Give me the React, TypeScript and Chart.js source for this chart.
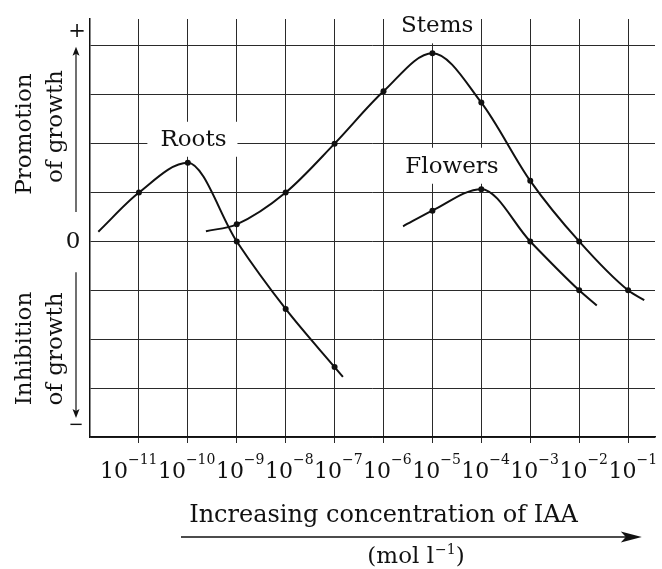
import React, { useEffect, useRef } from 'react';
import { Chart, registerables } from 'chart.js';

Chart.register(...registerables);

// ---- data (x = log10 of IAA concentration, y = growth response in grid units) ----
const tickExponents = [-11, -10, -9, -8, -7, -6, -5, -4, -3, -2, -1];
const gridLevels = [-4, -3, -2, -1, 0, 1, 2, 3, 4];

const rootsX = [-11.83, -11, -10, -9, -8, -7, -6.83];
const rootsY = [0.2, 1.0, 1.61, 0, -1.38, -2.57, -2.77];

const stemsX = [-9.63, -9, -8, -7, -6, -5, -4, -3, -2, -1, -0.67];
const stemsY = [0.21, 0.35, 1.0, 2.0, 3.07, 3.85, 2.84, 1.24, 0, -1.0, -1.2];

const flowersX = [-5.6, -5, -4, -3, -2, -1.64];
const flowersY = [0.31, 0.63, 1.07, 0, -1.0, -1.31];

const seriesNames = ['Roots', 'Stems', 'Flowers'];

const FONT = '"DejaVu Serif", "Liberation Serif", serif';
const INK = '#111';

// label anchors in data units (center x, baseline y) and white box padding
const labelAnchors = [
  { x: -9.886, y: 1.957, padL: 13, padR: 11 },
  { x: -4.903, y: 4.277, padL: 9, padR: 6 },
  { x: -4.6, y: 1.405, padL: 8, padR: 8 },
];

const toPoints = (xs: number[], ys: number[]) => xs.map((x, i) => ({ x, y: ys[i] }));
const markerRadii = (xs: number[]) => xs.map((_, i) => (i === 0 || i === xs.length - 1 ? 0 : 3));
const supText = (e: number) => '\u2212' + Math.abs(e);

function arrowHead(ctx: CanvasRenderingContext2D, tx: number, ty: number, dx: number, dy: number, len: number, half: number, notch: number) {
  const px = -dy, py = dx;
  ctx.beginPath();
  ctx.moveTo(tx, ty);
  ctx.lineTo(tx - dx * len + px * half, ty - dy * len + py * half);
  ctx.lineTo(tx - dx * (len - notch), ty - dy * (len - notch));
  ctx.lineTo(tx - dx * len - px * half, ty - dy * len - py * half);
  ctx.closePath();
  ctx.fill();
}

const textPlugin = {
  id: 'textPlugin',
  beforeDatasetsDraw(chart: any) {
    const { ctx } = chart;
    const xs = chart.scales.x, ys = chart.scales.y;
    ctx.save();
    ctx.font = `23px ${FONT}`;
    ctx.textAlign = 'center';
    ctx.textBaseline = 'alphabetic';
    labelAnchors.forEach((a, i) => {
      const text = seriesNames[i];
      const cx = xs.getPixelForValue(a.x);
      const by = ys.getPixelForValue(a.y);
      const m = ctx.measureText(text);
      const w = m.width;
      const top = by - m.actualBoundingBoxAscent - 8;
      ctx.fillStyle = '#fff';
      ctx.fillRect(cx - w / 2 - a.padL, top, w + a.padL + a.padR, by + 11 - top);
      ctx.fillStyle = INK;
      ctx.fillText(text, cx, by);
    });
    ctx.restore();
  },
  afterDraw(chart: any) {
    const { ctx, chartArea } = chart;
    const xs = chart.scales.x, ys = chart.scales.y;
    const L = chartArea.left, B = chartArea.bottom;
    ctx.save();
    ctx.fillStyle = INK;
    ctx.strokeStyle = INK;

    // ---- x tick labels 10^n, packed as one line ----
    const bigF = `22px ${FONT}`, supF = `14px ${FONT}`;
    const parts = tickExponents.map((e) => {
      ctx.font = bigF;
      const wb = ctx.measureText('10').width;
      ctx.font = supF;
      const ws = ctx.measureText(supText(e)).width;
      return { e, wb, ws };
    });
    const total = parts.reduce((s, p) => s + p.wb + p.ws, 0);
    const startX = xs.getPixelForValue(tickExponents[0]) - 39;
    const endX = xs.getPixelForValue(tickExponents[tickExponents.length - 1]) + 29;
    const gap = (endX - startX - total) / (parts.length - 1);
    let cx = startX;
    ctx.textAlign = 'left';
    ctx.textBaseline = 'alphabetic';
    parts.forEach((p) => {
      ctx.font = bigF;
      ctx.fillText('10', cx, B + 41);
      ctx.font = supF;
      ctx.fillText(supText(p.e), cx + p.wb, B + 27);
      cx += p.wb + p.ws + gap;
    });

    // ---- x axis title ----
    ctx.font = `24px ${FONT}`;
    ctx.textAlign = 'center';
    ctx.fillText('Increasing concentration of IAA', xs.getPixelForValue(-6), B + 85);

    // long arrow
    const ay = B + 100;
    const ax1 = xs.getPixelForValue(-10.14);
    const ax2 = xs.getPixelForValue(-0.72);
    ctx.lineWidth = 1.5;
    ctx.beginPath();
    ctx.moveTo(ax1, ay);
    ctx.lineTo(ax2 - 10, ay);
    ctx.stroke();
    arrowHead(ctx, ax2, ay, 1, 0, 21, 5.5, 5);

    // unit (mol l^-1)
    const mainF = `23px ${FONT}`;
    ctx.font = mainF;
    const w1 = ctx.measureText('(mol l').width;
    const w3 = ctx.measureText(')').width;
    ctx.font = supF;
    const w2 = ctx.measureText('\u22121').width;
    const ucx = xs.getPixelForValue(-5.346);
    const ux = ucx - (w1 + w2 + w3) / 2;
    ctx.textAlign = 'left';
    ctx.font = mainF;
    ctx.fillText('(mol l', ux, B + 126);
    ctx.font = supF;
    ctx.fillText('\u22121', ux + w1 + 1, B + 117);
    ctx.font = mainF;
    ctx.fillText(')', ux + w1 + w2 + 1, B + 126);

    // ---- y side labels ----
    const drawRot = (text: string, x: number, y: number) => {
      ctx.save();
      ctx.translate(x, y);
      ctx.rotate(-Math.PI / 2);
      ctx.textAlign = 'center';
      ctx.textBaseline = 'alphabetic';
      ctx.fillText(text, 0, 0);
      ctx.restore();
    };
    ctx.font = `23px ${FONT}`;
    drawRot('Promotion', L - 59, ys.getPixelForValue(2.197));
    drawRot('of growth', L - 28, ys.getPixelForValue(2.35));
    drawRot('Inhibition', L - 59, ys.getPixelForValue(-2.19));
    drawRot('of growth', L - 28, ys.getPixelForValue(-2.2));

    // vertical arrows
    const vx = L - 14;
    ctx.lineWidth = 1.2;
    const upTop = ys.getPixelForValue(3.98), upBot = ys.getPixelForValue(0.6);
    ctx.beginPath();
    ctx.moveTo(vx, upBot);
    ctx.lineTo(vx, upTop + 5);
    ctx.stroke();
    arrowHead(ctx, vx, upTop, 0, -1, 9, 3.5, 2);
    const dnTop = ys.getPixelForValue(-0.63), dnBot = ys.getPixelForValue(-3.61);
    ctx.beginPath();
    ctx.moveTo(vx, dnTop);
    ctx.lineTo(vx, dnBot - 5);
    ctx.stroke();
    arrowHead(ctx, vx, dnBot, 0, 1, 9, 3.5, 2);

    // + / 0 / − markers
    ctx.textAlign = 'center';
    ctx.textBaseline = 'middle';
    ctx.font = `21px ${FONT}`;
    ctx.fillText('+', L - 13, ys.getPixelForValue(4.29));
    ctx.font = `23px ${FONT}`;
    ctx.fillText('0', L - 17, ys.getPixelForValue(0) + 1);
    ctx.font = `18px ${FONT}`;
    ctx.fillText('\u2212', L - 14, ys.getPixelForValue(-3.77));

    ctx.restore();
  },
};

export default function App() {
  const ref = useRef<HTMLCanvasElement | null>(null);

  useEffect(() => {
    if (!ref.current) return;
    const mk = (name: string, xs: number[], ys: number[]) => ({
      label: name,
      data: toPoints(xs, ys),
      borderColor: INK,
      backgroundColor: INK,
      borderWidth: 2,
      pointRadius: markerRadii(xs),
      pointBackgroundColor: INK,
      pointBorderWidth: 0,
      cubicInterpolationMode: 'monotone' as const,
      fill: false,
    });
    const chart = new Chart(ref.current, {
      type: 'line',
      data: {
        datasets: [
          mk(seriesNames[0], rootsX, rootsY),
          mk(seriesNames[1], stemsX, stemsY),
          mk(seriesNames[2], flowersX, flowersY),
        ],
      },
      options: {
        animation: false,
        responsive: false,
        events: [],
        layout: { padding: { top: 19, right: 7, left: 0, bottom: 0 } },
        plugins: {
          legend: { display: false },
          tooltip: { enabled: false },
          title: { display: false },
        },
        scales: {
          x: {
            type: 'linear',
            min: -12,
            max: -0.45,
            afterBuildTicks: (s: any) => {
              s.ticks = tickExponents.map((v) => ({ value: v }));
            },
            afterFit: (s: any) => {
              s.height = 132;
            },
            ticks: { display: false },
            grid: { color: '#2a2a2a', lineWidth: 1, drawTicks: true, tickLength: 6, tickColor: '#2a2a2a' },
            border: { display: true, color: INK, width: 1.5 },
          },
          y: {
            type: 'linear',
            min: -4,
            max: 4.55,
            afterBuildTicks: (s: any) => {
              s.ticks = gridLevels.map((v) => ({ value: v }));
            },
            afterFit: (s: any) => {
              s.width = 90;
            },
            ticks: { display: false },
            grid: { color: '#2a2a2a', lineWidth: 1, drawTicks: false },
            border: { display: true, color: INK, width: 1.5 },
          },
        },
      } as any,
      plugins: [textPlugin],
    });
    return () => chart.destroy();
  }, []);

  return (
    <canvas
      ref={ref}
      width={662}
      height={569}
      style={{ position: 'fixed', left: 0, top: 0, width: '662px', height: '569px', background: '#fff' }}
    />
  );
}
